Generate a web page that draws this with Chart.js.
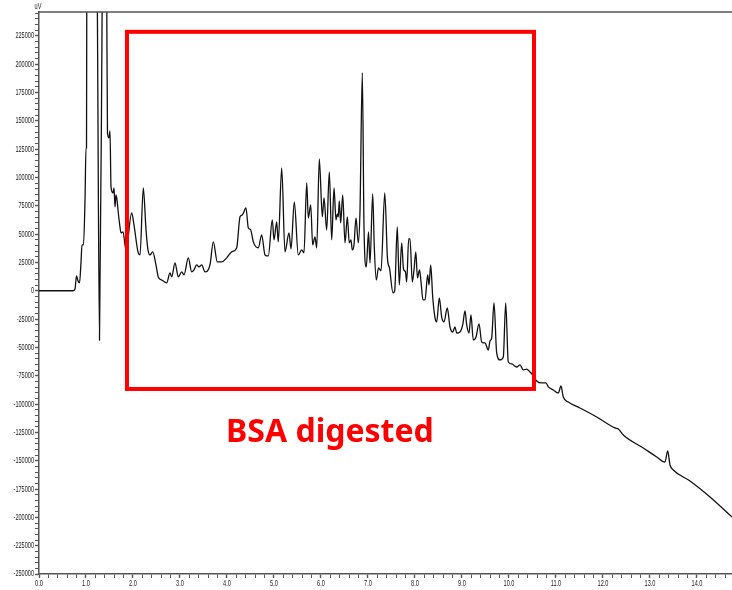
<!DOCTYPE html>
<html>
<head>
<meta charset="utf-8">
<script src="https://cdn.jsdelivr.net/npm/chart.js@4.4.1/dist/chart.umd.min.js"></script>
<style>
  html, body { margin: 0; padding: 0; background: #fff; }
  canvas { display: block; }
</style>
</head>
<body>
<canvas id="chromatogram" width="732" height="590"></canvas>
<script>
// retention time (min)
const times = [
  0, 0.723, 0.766, 0.798, 0.830, 0.862, 0.894, 0.915, 0.947, 0.979, 1.000, 1.011,
  1.017, 1.128, 1.238, 1.287, 1.347, 1.394, 1.440,
  1.457, 1.489, 1.511, 1.532, 1.574, 1.596, 1.617, 1.638, 1.660, 1.681, 1.723, 1.745, 1.787, 1.851,
  1.972, 2.021, 2.106, 2.149, 2.219, 2.277, 2.319, 2.362, 2.419, 2.489,
  2.538, 2.611, 2.717, 2.787, 2.823, 2.894, 2.964, 3.036, 3.085, 3.177,
  3.249, 3.298, 3.355, 3.404, 3.462, 3.532, 3.638, 3.709, 3.794, 3.887,
  3.994, 4.100, 4.206, 4.277, 4.326, 4.404, 4.453, 4.504, 4.560, 4.666,
  4.738, 4.809, 4.879, 4.964, 5.000, 5.057, 5.091, 5.164, 5.234, 5.319,
  5.362, 5.432, 5.517, 5.589, 5.638, 5.696, 5.730, 5.781, 5.823, 5.872,
  5.909, 5.964, 6.028, 6.064, 6.121, 6.177, 6.228, 6.277, 6.319, 6.347,
  6.368, 6.389, 6.419, 6.462, 6.511, 6.560, 6.602, 6.638, 6.666, 6.702,
  6.745, 6.794, 6.830, 6.879, 6.915, 6.964, 7.011, 7.043, 7.100, 7.134,
  7.177, 7.223, 7.277, 7.357, 7.415, 7.457, 7.532, 7.568, 7.623, 7.666,
  7.717, 7.755, 7.798, 7.823, 7.866, 7.894, 7.943, 7.979, 8.017, 8.053,
  8.096, 8.128, 8.170, 8.213, 8.270, 8.298, 8.334, 8.377, 8.426, 8.462,
  8.517, 8.568, 8.617, 8.687, 8.745, 8.802, 8.851, 8.887, 8.957, 9.015,
  9.064, 9.100, 9.149, 9.191, 9.240, 9.298, 9.362, 9.419, 9.489, 9.560,
  9.596, 9.632, 9.681, 9.738, 9.809, 9.879, 9.930, 9.985, 10.057, 10.164,
  10.234, 10.304, 10.377, 10.447, 10.489, 10.589, 10.696, 10.787, 10.836, 10.943,
  11.049, 11.106, 11.155, 11.262, 11.511, 11.866, 12.255, 12.326, 12.432, 12.857,
  13.143, 13.319, 13.377, 13.426, 13.496, 13.851, 14.277, 14.745
];

// detector signal (uV); the two big early peaks run off the top
const signal = [
  0, 0, 1600, 13100, 8700, 6900, 25400, 40400, 40400, 80200, 126100, 126100,
  270000, 500000, 270000, -43700, 270000, 500000, 270000,
  139300, 134900, 141100, 91700, 86400, 90800, 74000, 84600, 80200, 71300, 56300, 51000, 51900, 36000,
  68700, 58100, 34300, 31600, 90800, 53700, 36000, 31600, 34300, 22800,
  12200, 9500, 6900, 15700, 12200, 24500, 12200, 16600, 14000, 29000,
  16600, 18400, 22800, 21000, 22800, 16600, 22800, 43100, 25400, 25400,
  29000, 34300, 37800, 65200, 66900, 73100, 55500, 53700, 43100, 37800,
  49300, 31600, 30700, 62500, 44900, 60800, 43100, 108400, 34300, 51000,
  36900, 78400, 31600, 36000, 33400, 95200, 64300, 75800, 40400, 47500,
  37800, 116400, 65200, 81900, 53700, 104900, 44900, 90800, 62500, 67800,
  65200, 79300, 59900, 84600, 42200, 65200, 42200, 44900, 36000, 40400,
  64300, 42200, 71300, 192300, 56300, 21000, 51900, 24500, 85500, 38700,
  9500, 20100, 17500, 86400, 28100, 20100, -1900, 0, 56300, 5100,
  42200, 19200, 16600, 7800, 45700, 45700, 7800, 18400, 34300, 11300,
  18400, 7800, -8100, -8100, 14000, 5100, 22800, -5500, -24000, -27500,
  -6400, -23200, -27500, -15200, -32000, -36400, -32000, -37300, -36400, -30200,
  -17800, -30200, -37300, -21400, -43400, -40800, -29300, -45200, -46100, -52300,
  -44300, -41700, -10800, -54900, -61100, -58500, -10800, -62900, -64600, -67300,
  -65500, -69900, -69100, -71700, -73500, -79600, -81400, -81400, -84900, -87600,
  -90200, -84100, -93800, -98200, -103500, -111400, -121100, -122000, -127300, -138800,
  -146700, -151200, -141400, -153800, -158200, -167900, -182000, -199700
];

const unitLabel = "uV";
const xMax = 14.745;
const yMin = -250000;
const yMax = 246000;
const xStep = 0.2;      // minor tick spacing
const xLabelEvery = 1;
const yStep = 5000;     // minor tick spacing
const yLabelEvery = 25000;

// highlighted region (time range, signal range) and its caption
const boxTimes = [1.872, 10.532];
const boxSignal = [228500, -86700];
const boxLabel = "BSA digested";
const boxLabelAt = [6.19, -133500];

// axis numbers are a squeezed narrow face
const tickFace = "9px 'Liberation Sans', Arial, sans-serif";
const squeeze = 0.62;

function stepTicks(min, max, step) {
  const out = [];
  const n0 = Math.ceil(min / step - 1e-9);
  const n1 = Math.floor(max / step + 1e-9);
  for (let n = n0; n <= n1; n++) out.push({ value: Math.round(n * step * 1000) / 1000 });
  return out;
}

function isMultiple(v, m) {
  const r = v / m;
  return Math.abs(r - Math.round(r)) < 1e-6;
}

function squeezedText(ctx, text, x, y, align) {
  ctx.save();
  ctx.translate(x, y);
  ctx.scale(squeeze, 1);
  ctx.textAlign = align;
  ctx.fillText(text, 0, 0);
  ctx.restore();
}

const overlay = {
  id: "overlay",
  afterDraw(chart) {
    const ctx = chart.ctx;
    const area = chart.chartArea;
    const xs = chart.scales.x;
    const ys = chart.scales.y;
    ctx.save();

    // top frame line
    ctx.strokeStyle = "#555";
    ctx.lineWidth = 1.5;
    ctx.beginPath();
    ctx.moveTo(area.left, area.top);
    ctx.lineTo(area.right, area.top);
    ctx.stroke();

    // axis numbers
    ctx.fillStyle = "#222";
    ctx.font = tickFace;
    ctx.textBaseline = "middle";
    ys.ticks.forEach((t) => {
      if (isMultiple(t.value, yLabelEvery)) {
        squeezedText(ctx, String(t.value), area.left - 5, ys.getPixelForValue(t.value), "right");
      }
    });
    ctx.textBaseline = "top";
    xs.ticks.forEach((t) => {
      if (isMultiple(t.value, xLabelEvery)) {
        squeezedText(ctx, t.value.toFixed(1), xs.getPixelForValue(t.value), area.bottom + 5, "center");
      }
    });

    // unit
    ctx.textBaseline = "bottom";
    squeezedText(ctx, unitLabel, area.left - 1, area.top - 1, "center");

    // red box
    const x0 = xs.getPixelForValue(boxTimes[0]);
    const x1 = xs.getPixelForValue(boxTimes[1]);
    const y0 = ys.getPixelForValue(boxSignal[0]);
    const y1 = ys.getPixelForValue(boxSignal[1]);
    ctx.strokeStyle = "#ff0000";
    ctx.lineWidth = 4;
    ctx.strokeRect(x0, y0, x1 - x0, y1 - y0);

    ctx.fillStyle = "#ff0000";
    ctx.font = "bold 32px 'Noto Sans', sans-serif";
    ctx.textAlign = "center";
    ctx.textBaseline = "alphabetic";
    ctx.fillText(boxLabel, xs.getPixelForValue(boxLabelAt[0]), ys.getPixelForValue(boxLabelAt[1]));
    ctx.restore();
  }
};

new Chart(document.getElementById("chromatogram"), {
  type: "line",
  data: {
    datasets: [{
      data: times.map((t, i) => ({ x: t, y: signal[i] })),
      borderColor: "#111",
      borderWidth: 1.3,
      pointRadius: 0,
      fill: false,
      cubicInterpolationMode: "monotone"
    }]
  },
  options: {
    responsive: false,
    animation: false,
    devicePixelRatio: 1,
    layout: { padding: { top: 12, left: 0, right: 0, bottom: 0 } },
    plugins: { legend: { display: false }, tooltip: { enabled: false } },
    scales: {
      x: {
        type: "linear",
        min: 0,
        max: xMax,
        border: { color: "#555", width: 1.5 },
        grid: {
          drawOnChartArea: false, drawTicks: true, tickLength: 4, color: "#555",
          tickWidth: (c) => (c.tick && isMultiple(c.tick.value, xLabelEvery) ? 1.4 : 1)
        },
        afterBuildTicks: (s) => { s.ticks = stepTicks(0, xMax, xStep); },
        ticks: { display: false, autoSkip: false },
        afterFit: (s) => { s.height = 16; }
      },
      y: {
        type: "linear",
        min: yMin,
        max: yMax,
        border: { color: "#555", width: 1.5 },
        grid: {
          drawOnChartArea: false, drawTicks: true, tickLength: 4, color: "#555",
          tickWidth: (c) => (c.tick && isMultiple(c.tick.value, yLabelEvery) ? 1.4 : 1)
        },
        afterBuildTicks: (s) => { s.ticks = stepTicks(yMin, yMax, yStep); },
        ticks: { display: false, autoSkip: false },
        afterFit: (s) => { s.width = 39; }
      }
    }
  },
  plugins: [overlay]
});
</script>
</body>
</html>
